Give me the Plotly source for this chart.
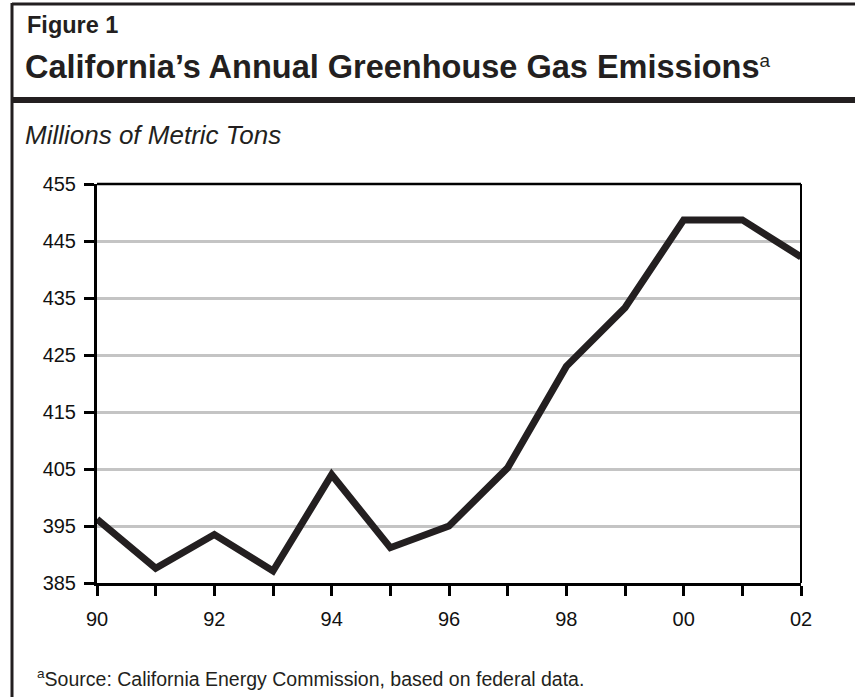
import plotly.graph_objects as go

years = [1990, 1991, 1992, 1993, 1994, 1995, 1996, 1997, 1998, 1999, 2000, 2001, 2002]
emissions = [396.2, 387.6, 393.5, 387.1, 404.0, 391.2, 395.0, 405.2, 423.0, 433.3, 448.7, 448.7, 442.2]
x_tick_labels = ["90", "", "92", "", "94", "", "96", "", "98", "", "00", "", "02"]
y_ticks = [385, 395, 405, 415, 425, 435, 445, 455]

W, H = 855, 697
L, R, T, B = 97, 801, 184, 583
DARK = "#231f20"
FONT = "Liberation Sans, Arial, Helvetica, sans-serif"


def px(x):
    return (x - L) / (R - L)


def py(y):
    return (B - y) / (B - T)


fig = go.Figure()
fig.add_trace(go.Scatter(
    x=years, y=emissions, mode="lines",
    line=dict(color=DARK, width=7, shape="linear"),
    hoverinfo="skip", showlegend=False,
))

fig.update_layout(
    width=W, height=H,
    margin=dict(l=L, r=W - R, t=T, b=H - B, pad=0),
    paper_bgcolor="white", plot_bgcolor="white",
    font=dict(family=FONT, color="#111111"),
    xaxis=dict(
        range=[1990, 2002], tickvals=years, ticktext=x_tick_labels,
        showgrid=False, zeroline=False, showline=True, linecolor="black", linewidth=3,
        ticks="outside", ticklen=10, tickwidth=2.5, tickcolor="black",
        tickfont=dict(size=20, family=FONT, color="#111111"), ticklabelstandoff=6,
    ),
    yaxis=dict(
        range=[385, 455], tickvals=y_ticks,
        showgrid=True, gridcolor="#c4c4c4", gridwidth=2.5, zeroline=False,
        showline=True, linecolor="black", linewidth=3,
        ticks="outside", ticklen=10, tickwidth=2.5, tickcolor="black",
        tickfont=dict(size=20, family=FONT, color="#111111"), ticklabelstandoff=4,
    ),
)

shapes = [
    # outer border (top and left)
    dict(type="line", xref="paper", yref="paper", x0=px(12), x1=px(W + 5), y0=py(4), y1=py(4),
         line=dict(color=DARK, width=3)),
    dict(type="line", xref="paper", yref="paper", x0=px(12), x1=px(12), y0=py(3), y1=py(H + 5),
         line=dict(color=DARK, width=3)),
    # thick title bar
    dict(type="line", xref="paper", yref="paper", x0=px(12), x1=px(W + 5), y0=py(100), y1=py(100),
         line=dict(color=DARK, width=6)),
    # plot frame top & right
    dict(type="line", xref="paper", yref="paper", x0=0, x1=1, y0=1, y1=1,
         line=dict(color="black", width=2.5)),
    dict(type="line", xref="paper", yref="paper", x0=1, x1=1, y0=0, y1=1,
         line=dict(color="black", width=2)),
]
fig.update_layout(shapes=shapes)

annotations = [
    dict(text="<b>Figure 1</b>", x=px(25), y=py(25), xanchor="left", yanchor="middle",
         font=dict(size=23.5, family=FONT, color=DARK)),
    dict(text="<b>California\u2019s Annual Greenhouse Gas Emissions</b><span style='font-size:27px'><sup>a</sup></span>",
         x=px(23), y=py(67), xanchor="left", yanchor="middle",
         font=dict(size=32.5, family=FONT, color=DARK)),
    dict(text="<i>Millions of Metric Tons</i>", x=px(23), y=py(135), xanchor="left", yanchor="middle",
         font=dict(size=26, family=FONT, color=DARK)),
    dict(text="<sup>a</sup>Source: California Energy Commission, based on federal data.",
         x=px(35), y=py(678), xanchor="left", yanchor="middle",
         font=dict(size=19.5, family=FONT, color=DARK)),
]
for a in annotations:
    a.update(xref="paper", yref="paper", showarrow=False)
fig.update_layout(annotations=annotations)

fig.write_html("out.html")
